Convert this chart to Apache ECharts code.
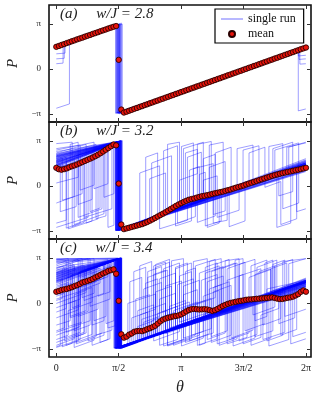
<!DOCTYPE html>
<html>
<head>
<meta charset="utf-8">
<script src="https://cdn.jsdelivr.net/npm/echarts@6/dist/echarts.min.js"></script>
<style>
html, body { margin: 0; padding: 0; background: #fff; }
#chart { width: 322px; height: 401px; }
</style>
</head>
<body>
<div id="chart"></div>
<script>
const PI = Math.PI
const FONT = '"Liberation Serif", "DejaVu Serif", serif'

// theta grid of the mean (97 samples, 0 .. 2π)
const theta = Array.from({ length: 97 }, (_, i) => i * 2 * PI / 96)

// ticks
const xTickValues = [0, PI / 2, PI, 3 * PI / 2, 2 * PI]
const xTickLabels = ['0', 'π/2', 'π', '3π/2', '2π']
const yTickValues = [-PI, 0, PI]
const yTickLabels = ['−π', '0', 'π']

// panel captions
const panelLabels = ['(a)', '(b)', '(c)']
const couplings = ['2.8', '3.2', '3.4']

// mean of P over the runs, one value per theta sample
const meanA = [
    1.54, 1.60, 1.67, 1.73, 1.80, 1.86, 1.93, 1.99, 2.06, 2.12, 2.18, 2.25, 2.31, 2.37, 2.44, 2.50,
    2.56, 2.63, 2.69, 2.75, 2.82, 2.88, 2.94, 2.99, 0.63, -2.84,
    -3.05, -2.99, -2.92, -2.86, -2.79, -2.73, -2.66, -2.60, -2.53, -2.47, -2.40, -2.34, -2.27, -2.21,
    -2.14, -2.08, -2.01, -1.95, -1.88, -1.82, -1.75, -1.69, -1.62, -1.56, -1.49, -1.43, -1.36, -1.30,
    -1.23, -1.17, -1.10, -1.04, -0.97, -0.91, -0.84, -0.78, -0.71, -0.65, -0.58, -0.52, -0.45, -0.39,
    -0.32, -0.26, -0.19, -0.13, -0.06, 0.00, 0.07, 0.13, 0.20, 0.26, 0.33, 0.39, 0.46, 0.52, 0.59,
    0.65, 0.72, 0.78, 0.85, 0.91, 0.98, 1.04, 1.11, 1.17, 1.24, 1.30, 1.37, 1.43, 1.49
]
const meanB = [
    1.26, 1.16, 1.13, 1.17, 1.22, 1.30, 1.37, 1.43, 1.50, 1.58, 1.66, 1.74, 1.82, 1.90, 1.98, 2.07,
    2.17, 2.28, 2.40, 2.52, 2.64, 2.76, 2.89, 2.83, 0.16, -2.70,
    -3.02, -2.97, -2.92, -2.87, -2.82, -2.77, -2.72, -2.67, -2.60, -2.52, -2.43, -2.34, -2.24, -2.14,
    -2.04, -1.94, -1.84, -1.73, -1.62, -1.51, -1.40, -1.30, -1.21, -1.12, -1.04, -0.97, -0.92, -0.88,
    -0.82, -0.77, -0.72, -0.69, -0.65, -0.61, -0.56, -0.52, -0.48, -0.44, -0.40, -0.35, -0.30, -0.25,
    -0.19, -0.13, -0.08, -0.03, 0.03, 0.10, 0.16, 0.22, 0.28, 0.34, 0.40, 0.46, 0.52, 0.58, 0.64,
    0.70, 0.75, 0.80, 0.85, 0.89, 0.93, 0.97, 1.01, 1.05, 1.09, 1.13, 1.17, 1.22, 1.26
]
const meanC = [
    0.81, 0.86, 0.93, 0.97, 1.00, 1.06, 1.12, 1.20, 1.26, 1.35, 1.45, 1.50, 1.56, 1.62, 1.70, 1.80,
    1.88, 1.98, 2.08, 2.15, 2.25, 2.30, 2.36, 2.05, 0.18, -2.14,
    -2.37, -2.30, -2.16, -2.08, -1.96, -1.92, -1.90, -1.92, -1.86, -1.78, -1.72, -1.64, -1.55, -1.40,
    -1.24, -1.12, -1.05, -0.99, -0.95, -0.90, -0.87, -0.83, -0.76, -0.66, -0.55, -0.46, -0.40, -0.38,
    -0.40, -0.42, -0.41, -0.40, -0.42, -0.47, -0.52, -0.47, -0.38, -0.28, -0.18, -0.10, -0.03, 0.03,
    0.07, 0.11, 0.15, 0.18, 0.21, 0.25, 0.27, 0.28, 0.30, 0.32, 0.33, 0.35, 0.36, 0.38, 0.40,
    0.42, 0.38, 0.33, 0.30, 0.31, 0.35, 0.39, 0.42, 0.47, 0.55, 0.64, 0.80, 0.90, 0.81
]

// single runs, corners [theta, P]
const runsA = [
    [[0, 1.52], [1.49, 2.98], [1.49, -3.10], [6.28, 1.46]],
    [[0, 1.56], [1.52, 3.04], [1.52, -3.12], [6.28, 1.50]],
    [[0, 1.60], [1.55, 3.10], [1.55, -3.08], [6.28, 1.55]],
    [[0, 1.54], [1.58, 3.08], [1.58, -3.14], [6.28, 1.49]],
    [[0, 1.58], [1.61, 3.14], [1.61, -3.06], [6.28, 1.53]],
    [[0, 1.62], [1.64, 3.20], [1.64, -3.10], [6.28, 1.58]],
    [[0, 1.50], [1.66, 3.12], [1.66, -3.13], [6.28, 1.47]],
    [[0, 1.56], [1.53, 3.06], [1.53, -3.05], [6.28, 1.52]],
    [[0, -2.75], [0.33, -2.45], [0.33, 1.90], [1.57, 3.12], [1.57, -3.10], [6.28, 1.50]],
    [[0, 1.05], [0.22, 1.10], [0.22, 1.78], [1.60, 3.10], [1.60, -3.10], [6.28, 1.50]],
    [[0, 0.70], [0.20, 0.74], [0.20, 1.75], [1.54, 3.06], [1.54, -3.09], [6.28, 1.51]],
    [[0, 0.36], [0.17, 0.40], [0.17, 1.72], [1.59, 3.12], [1.59, -3.07], [6.28, 1.52]],
    [[0, 1.55], [1.56, 3.08], [1.56, -3.10], [6.09, 1.30], [6.09, -2.93], [6.28, -2.80]],
    [[0, 1.57], [1.58, 3.10], [1.58, -3.08], [6.09, 1.30], [6.09, 0.90], [6.28, 0.95]],
    [[0, 1.53], [1.62, 3.12], [1.62, -3.11], [6.11, 1.32], [6.11, 0.66], [6.28, 0.70]],
    [[0, 1.59], [1.51, 3.02], [1.51, -3.06], [6.13, 1.34], [6.13, 0.33], [6.28, 0.36]]
]
const runsB = [
    [[0, 1.30], [1.49, 2.95], [1.49, -3.12], [6.28, 1.00]],
    [[0, 1.34], [1.495, 2.96], [1.495, -3.11], [6.28, 1.04]],
    [[0, 1.38], [1.50, 2.97], [1.50, -3.10], [6.28, 1.08]],
    [[0, 1.42], [1.51, 2.99], [1.51, -3.09], [6.28, 1.12]],
    [[0, 1.46], [1.52, 3.00], [1.52, -3.11], [6.28, 1.15]],
    [[0, 1.54], [1.53, 3.02], [1.53, -3.08], [6.28, 1.22]],
    [[0, 1.58], [1.54, 3.04], [1.54, -3.10], [6.28, 1.26]],
    [[0, 1.62], [1.55, 3.05], [1.55, -3.09], [6.28, 1.30]],
    [[0, 1.66], [1.555, 3.06], [1.555, -3.07], [6.28, 1.34]],
    [[0, 1.70], [1.56, 3.07], [1.56, -3.06], [6.28, 1.38]],
    [[0, 1.74], [1.565, 3.08], [1.565, -3.08], [6.28, 1.42]],
    [[0, 1.78], [1.57, 3.09], [1.57, -3.10], [6.28, 1.45]],
    [[0, 1.82], [1.58, 3.09], [1.58, -3.06], [6.28, 1.48]],
    [[0, 1.86], [1.59, 3.10], [1.59, -3.07], [6.28, 1.52]],
    [[0, 1.90], [1.595, 3.11], [1.595, -3.09], [6.28, 1.56]],
    [[0, 1.94], [1.60, 3.12], [1.60, -3.05], [6.28, 1.60]],
    [[0, 1.98], [1.61, 3.12], [1.61, -3.05], [6.28, 1.63]],
    [[0, 2.02], [1.62, 3.13], [1.62, -3.08], [6.28, 1.67]],
    [[0, 2.06], [1.625, 3.13], [1.625, -3.07], [6.28, 1.70]],
    [[0, 2.10], [1.63, 3.14], [1.63, -3.04], [6.28, 1.74]],
    [[0, 2.14], [1.64, 3.14], [1.64, -3.04], [6.28, 1.78]],
    [[0, 2.18], [1.65, 3.15], [1.65, -3.06], [6.28, 1.82]],
    [[0, 2.26], [1.66, 3.16], [1.66, -3.03], [6.28, 1.90]],
    [[0, 1.50], [1.58, 3.08], [1.58, -3.12], [6.28, 1.10]],
    [[0, 2.95], [0.40, 3.05], [0.40, -2.85], [0.70, -2.55], [0.70, 2.10], [1.57, 3.10], [1.57, -3.10], [2.40, -2.30], [2.40, 1.60], [2.90, 2.10], [2.90, -1.50], [6.28, 1.40]],
    [[0, -2.60], [0.25, -2.40], [0.25, 1.70], [1.52, 3.05], [1.52, -3.08], [3.20, -1.40], [3.20, 2.60], [3.70, 3.05], [3.70, -0.90], [6.28, 1.50]],
    [[0, 0.20], [0.55, 0.60], [0.55, 2.15], [1.60, 3.12], [1.60, -3.05], [3.45, -1.10], [3.45, 1.20], [3.95, 1.55], [3.95, -2.60], [4.30, -2.40], [4.30, -0.60], [6.28, 1.30]],
    [[0, 1.60], [0.85, 2.40], [0.85, -1.80], [1.10, -1.55], [1.10, 2.55], [1.55, 3.08], [1.55, -3.10], [2.10, -2.55], [2.10, 0.90], [2.60, 1.40], [2.60, -3.00], [3.30, -2.40], [3.30, -1.20], [6.28, 1.60]],
    [[0, 1.80], [0.15, 1.95], [0.15, -1.00], [0.45, -0.75], [0.45, 2.15], [1.58, 3.12], [1.58, -3.08], [3.85, -0.85], [3.85, 2.85], [4.20, 3.05], [4.20, -0.60], [4.70, -0.15], [4.70, 2.50], [5.10, 2.80], [5.10, 0.20], [6.28, 1.40]],
    [[0, 2.20], [1.00, 2.90], [1.00, -2.30], [1.25, -2.10], [1.25, 2.70], [1.62, 3.14], [1.62, -3.06], [2.80, -1.80], [2.80, 2.90], [3.10, 3.05], [3.10, -1.30], [5.55, 1.00], [5.55, -2.90], [5.90, -2.60], [5.90, 1.20], [6.28, 1.60]],
    [[0, 1.30], [0.30, 1.50], [0.30, -3.00], [0.90, -2.45], [0.90, 2.40], [1.50, 2.95], [1.50, -3.12], [3.60, -1.00], [3.60, 0.80], [3.75, 0.95], [3.75, -2.80], [4.15, -2.45], [4.15, -0.40], [5.80, 1.20], [5.80, 2.70], [6.28, 3.00]],
    [[0, 2.60], [0.60, 2.85], [0.60, -0.30], [0.95, 0.05], [0.95, 2.50], [1.56, 3.08], [1.56, -3.10], [2.25, -2.40], [2.25, 2.00], [2.55, 2.30], [2.55, -2.10], [6.28, 1.50]],
    [[0, 1.00], [0.70, 1.60], [0.70, -2.20], [1.40, -1.60], [1.40, 2.90], [1.60, 3.10], [1.60, -3.10], [4.55, -0.20], [4.55, 2.60], [4.95, 2.85], [4.95, 0.00], [5.35, 0.40], [5.35, 2.75], [5.70, 2.95], [5.70, 0.90], [6.28, 1.35]],
    [[0, 2.00], [1.54, 3.05], [1.54, -3.08], [3.00, -1.60], [3.00, -2.80], [3.40, -2.45], [3.40, -1.10], [4.00, -0.50], [4.00, 2.30], [4.40, 2.70], [4.40, -0.20], [6.28, 1.70]],
    [[0, 1.70], [1.20, 2.70], [1.20, -0.80], [1.45, -0.55], [1.45, 2.95], [1.63, 3.14], [1.63, -3.04], [3.95, -0.60], [3.95, -2.00], [4.25, -1.75], [4.25, -0.30], [6.05, 1.30], [6.05, -1.80], [6.28, -1.60]],
    [[0, 2.40], [1.58, 3.10], [1.58, -3.10], [3.25, -1.30], [3.25, 2.30], [3.55, 2.55], [3.55, -1.00], [5.60, 0.90], [5.60, -0.70], [5.95, -0.40], [5.95, 1.20], [6.28, 1.55]],
    [[0, 1.40], [0.10, 1.50], [0.10, -1.80], [0.50, -1.45], [0.50, 2.10], [1.57, 3.10], [1.57, -3.06], [3.70, -0.95], [3.70, 0.40], [4.05, 0.70], [4.05, -2.20], [4.60, -1.70], [4.60, -0.10], [6.28, 1.30]],
    [[0, 1.90], [1.52, 3.02], [1.52, -3.12], [2.70, -1.90], [2.70, 2.45], [3.05, 2.80], [3.05, -1.45], [5.50, 0.85], [5.50, 2.50], [6.10, 3.00], [6.10, 1.35], [6.28, 1.50]],
    [[0, -2.90], [0.80, -2.20], [0.80, 2.35], [1.58, 3.10], [1.58, -3.08], [3.35, -1.30], [3.35, 1.10], [3.60, 1.35], [3.60, -1.05], [6.28, 1.45]],
    [[0, 1.50], [0.55, 2.00], [0.55, -1.30], [0.90, -0.95], [0.90, 2.45], [1.56, 3.10], [1.56, -3.10], [3.80, -0.85], [3.80, -2.90], [4.10, -2.60], [4.10, -0.55], [6.28, 1.45]],
    [[0, 2.10], [1.62, 3.14], [1.62, -3.06], [3.10, -1.45], [3.10, 0.40], [3.55, 0.85], [3.55, 2.90], [3.90, 3.10], [3.90, -0.85], [5.85, 1.10], [5.85, 2.70], [6.28, 3.05]],
    [[0, 1.20], [0.35, 1.50], [0.35, 2.90], [0.55, 3.05], [0.55, -2.20], [1.15, -1.60], [1.15, 2.70], [1.60, 3.12], [1.60, -3.08], [3.55, -1.10], [3.55, -2.55], [4.00, -2.10], [4.00, -0.55], [6.28, 1.50]],
    [[0, 1.65], [1.55, 3.08], [1.55, -3.10], [4.85, 0.10], [4.85, 2.30], [5.25, 2.70], [5.25, -0.10], [5.65, 0.30], [5.65, -2.70], [6.05, -2.30], [6.05, 1.25], [6.28, 1.45]],
    [[0, 2.30], [0.75, 2.90], [0.75, -2.60], [1.05, -2.30], [1.05, 2.55], [1.53, 3.04], [1.53, -3.10], [3.30, -1.35], [3.30, 2.00], [3.65, 2.35], [3.65, -1.00], [6.28, 1.60]],
    [[0, 1.75], [0.25, 2.00], [0.25, -2.95], [0.60, -2.60], [0.60, 2.05], [1.59, 3.12], [1.59, -3.08], [3.85, -0.85], [3.85, 1.30], [4.25, 1.70], [4.25, -0.40], [6.28, 1.50]],
    [[0, 2.05], [1.30, 2.90], [1.30, -2.90], [1.45, -2.75], [1.45, 2.95], [1.61, 3.12], [1.61, -3.06], [3.15, -1.40], [3.15, 2.75], [3.45, 3.00], [3.45, -1.15], [6.28, 1.55]],
    [[0, -1.20], [0.65, -0.55], [0.65, 2.15], [1.57, 3.10], [1.57, -3.08], [2.35, -2.35], [2.35, 0.50], [2.75, 0.90], [2.75, -1.90], [6.28, 1.40]],
    [[0, 1.45], [0.45, 1.85], [0.45, -2.70], [1.20, -1.95], [1.20, 2.65], [1.56, 3.08], [1.56, -3.10], [4.35, -0.30], [4.35, -2.85], [4.75, -2.45], [4.75, 0.05], [5.45, 0.70], [5.45, 2.60], [5.95, 3.05], [5.95, 1.20], [6.28, 1.50]],
    [[0, 2.50], [0.95, 3.05], [0.95, -0.20], [1.30, 0.15], [1.30, 2.80], [1.63, 3.14], [1.63, -3.04], [3.70, -0.95], [3.70, 1.90], [4.00, 2.20], [4.00, -0.55], [6.28, 1.60]],
    [[0, 1.20], [1.50, 2.80], [1.50, -3.10], [3.05, -1.50], [3.05, -2.60], [3.50, -2.15], [3.50, -1.05], [5.70, 0.95], [5.70, -1.60], [6.10, -1.20], [6.10, 1.30], [6.28, 1.50]]
]
const runsC = [
    [[0, 1.45], [1.45, 2.95], [1.45, -3.10], [6.28, 0.95]],
    [[0, 1.48], [1.46, 2.96], [1.46, -3.09], [6.28, 0.98]],
    [[0, 1.52], [1.47, 2.98], [1.47, -3.08], [6.28, 1.02]],
    [[0, 1.56], [1.48, 2.99], [1.48, -3.10], [6.28, 1.05]],
    [[0, 1.59], [1.49, 3.00], [1.49, -3.11], [6.28, 1.08]],
    [[0, 1.62], [1.50, 3.02], [1.50, -3.07], [6.28, 1.12]],
    [[0, 1.66], [1.51, 3.03], [1.51, -3.06], [6.28, 1.15]],
    [[0, 1.70], [1.52, 3.04], [1.52, -3.08], [6.28, 1.18]],
    [[0, 1.73], [1.53, 3.05], [1.53, -3.09], [6.28, 1.22]],
    [[0, 1.77], [1.535, 3.06], [1.535, -3.06], [6.28, 1.25]],
    [[0, 1.80], [1.54, 3.07], [1.54, -3.05], [6.28, 1.28]],
    [[0, 1.84], [1.55, 3.08], [1.55, -3.09], [6.28, 1.32]],
    [[0, 1.87], [1.56, 3.08], [1.56, -3.10], [6.28, 1.35]],
    [[0, 1.91], [1.565, 3.09], [1.565, -3.05], [6.28, 1.38]],
    [[0, 1.94], [1.57, 3.10], [1.57, -3.07], [6.28, 1.42]],
    [[0, 1.98], [1.58, 3.10], [1.58, -3.08], [6.28, 1.45]],
    [[0, 2.01], [1.59, 3.11], [1.59, -3.04], [6.28, 1.48]],
    [[0, 2.05], [1.595, 3.12], [1.595, -3.06], [6.28, 1.52]],
    [[0, 2.08], [1.60, 3.12], [1.60, -3.08], [6.28, 1.55]],
    [[0, 2.12], [1.61, 3.13], [1.61, -3.10], [6.28, 1.58]],
    [[0, 2.15], [1.62, 3.13], [1.62, -3.12], [6.28, 1.62]],
    [[0, 2.22], [1.63, 3.14], [1.63, -3.06], [6.28, 1.68]],
    [[0, 2.30], [1.65, 3.15], [1.65, -3.09], [6.28, 1.75]],
    [[0, 3.05], [1.56, 3.14], [1.56, -3.10], [6.28, 1.30]],
    [[0, 2.95], [1.50, 3.10], [1.50, -3.12], [6.28, 1.20]],
    [[0, 3.05], [0.80, 3.10], [0.80, -2.60], [1.20, -2.20], [1.20, 2.70], [1.60, 3.12], [1.60, -3.10], [2.30, -2.40], [2.30, 1.80], [2.80, 2.30], [2.80, -2.90], [3.50, -2.20], [3.50, 2.60], [4.00, 3.05], [4.00, -0.80], [6.28, 1.40]],
    [[0, -2.90], [0.45, -2.45], [0.45, 0.60], [0.75, 0.90], [0.75, 2.30], [1.55, 3.10], [1.55, -3.05], [2.05, -2.55], [2.05, -0.50], [2.45, -0.10], [2.45, -2.60], [3.10, -1.95], [3.10, 1.90], [3.40, 2.20], [3.40, -1.30], [4.90, 0.10], [4.90, -2.90], [5.40, -2.40], [5.40, 0.60], [6.28, 1.45]],
    [[0, 1.20], [0.30, 1.45], [0.30, -1.60], [0.65, -1.30], [0.65, 2.25], [1.58, 3.12], [1.58, -3.10], [2.90, -1.85], [2.90, 2.95], [3.20, 3.10], [3.20, -2.40], [3.70, -1.95], [3.70, -0.80], [4.60, 0.10], [4.60, 2.70], [5.00, 3.05], [5.00, -1.20], [5.30, -0.90], [5.30, 1.00], [6.28, 1.60]],
    [[0, 2.60], [0.55, 3.05], [0.55, -0.90], [1.05, -0.40], [1.05, 2.60], [1.52, 3.05], [1.52, -3.08], [2.60, -2.10], [2.60, 0.30], [3.00, 0.70], [3.00, -1.60], [4.30, -0.40], [4.30, -2.80], [4.80, -2.35], [4.80, 0.10], [6.28, 1.20]],
    [[0, 0.30], [0.90, 1.10], [0.90, -2.90], [1.30, -2.50], [1.30, 2.80], [1.62, 3.14], [1.62, -3.06], [1.95, -2.75], [1.95, 2.20], [2.25, 2.50], [2.25, -2.40], [3.80, -0.95], [3.80, 1.50], [4.20, 1.90], [4.20, -0.60], [5.70, 0.80], [5.70, 2.90], [6.28, 3.10]],
    [[0, -1.50], [0.35, -1.20], [0.35, 1.90], [1.00, 2.50], [1.00, -2.20], [1.40, -1.85], [1.40, 2.95], [1.64, 3.12], [1.64, -3.10], [3.30, -1.50], [3.30, -0.20], [3.90, 0.35], [3.90, -2.70], [4.40, -2.20], [4.40, -0.30], [6.28, 1.50]],
    [[0, 2.30], [0.20, 2.50], [0.20, -2.40], [0.60, -2.00], [0.60, 0.90], [1.10, 1.40], [1.10, 2.65], [1.50, 3.00], [1.50, -3.12], [2.70, -1.95], [2.70, 2.40], [3.10, 2.80], [3.10, -1.30], [4.50, 0.00], [4.50, 3.00], [4.70, 3.10], [4.70, 0.10], [6.28, 1.70]],
    [[0, 0.90], [0.50, 1.35], [0.50, -2.70], [1.15, -2.05], [1.15, 2.60], [1.57, 3.10], [1.57, -3.10], [2.15, -2.50], [2.15, -1.10], [2.80, -0.50], [2.80, -2.95], [3.60, -2.20], [3.60, 2.10], [4.10, 2.60], [4.10, -0.60], [5.20, 0.50], [5.20, -2.50], [5.75, -2.00], [5.75, 1.00], [6.28, 1.50]],
    [[0, 3.10], [1.60, 3.12], [1.60, -3.06], [2.50, -2.20], [2.50, 2.70], [2.85, 3.05], [2.85, -1.70], [3.95, -0.70], [3.95, 1.10], [4.35, 1.50], [4.35, -2.50], [4.85, -2.05], [4.85, 0.20], [6.28, 1.55]],
    [[0, -0.60], [0.25, -0.35], [0.25, 1.75], [0.95, 2.40], [0.95, -1.20], [1.25, -0.90], [1.25, 2.75], [1.55, 3.08], [1.55, -3.05], [3.55, -1.05], [3.55, -2.90], [4.05, -2.45], [4.05, -0.55], [5.05, 0.40], [5.05, 2.50], [5.55, 3.00], [5.55, 0.90], [6.28, 1.45]],
    [[0, 2.00], [0.70, 2.65], [0.70, 0.20], [1.20, 0.70], [1.20, 2.75], [1.62, 3.14], [1.62, -3.08], [2.00, -2.70], [2.00, 0.30], [2.35, 0.60], [2.35, -2.40], [3.15, -1.60], [3.15, -0.40], [3.75, 0.20], [3.75, -1.00], [5.90, 1.10], [5.90, -2.80], [6.28, -2.45]],
    [[0, 1.55], [0.15, 1.70], [0.15, -3.00], [0.40, -2.75], [0.40, 2.00], [1.58, 3.12], [1.58, -3.10], [3.05, -1.60], [3.05, 1.30], [3.45, 1.70], [3.45, -1.25], [4.75, 0.00], [4.75, -1.90], [5.25, -1.40], [5.25, 0.50], [6.28, 1.35]],
    [[0, -2.20], [0.60, -1.60], [0.60, 2.15], [1.52, 3.05], [1.52, -3.10], [2.20, -2.45], [2.20, 1.00], [2.65, 1.45], [2.65, -2.00], [4.15, -0.55], [4.15, 2.40], [4.55, 2.80], [4.55, -0.10], [5.60, 0.90], [5.60, -1.40], [6.00, -1.00], [6.00, 1.20], [6.28, 1.45]],
    [[0, 2.80], [1.30, 3.05], [1.30, -1.70], [1.48, -1.55], [1.48, 2.95], [1.64, 3.12], [1.64, -3.04], [2.35, -2.35], [2.35, -0.40], [2.75, 0.00], [2.75, -2.10], [3.85, -1.00], [3.85, 2.90], [4.15, 3.10], [4.15, -0.60], [6.28, 1.55]],
    [[0, 1.00], [0.40, 1.40], [0.40, 2.90], [0.85, 3.10], [0.85, -0.20], [1.35, 0.30], [1.35, 2.85], [1.60, 3.10], [1.60, -3.10], [2.95, -1.80], [2.95, -2.90], [3.40, -2.45], [3.40, -1.20], [5.10, 0.40], [5.10, 2.20], [5.50, 2.60], [5.50, 0.80], [6.28, 1.60]],
    [[0, 0.00], [0.75, 0.75], [0.75, 2.30], [1.56, 3.10], [1.56, -3.08], [2.45, -2.20], [2.45, 2.00], [2.75, 2.30], [2.75, -1.95], [3.65, -1.05], [3.65, 1.60], [4.05, 2.00], [4.05, -2.80], [4.50, -2.40], [4.50, -0.15], [6.28, 1.30]],
    [[0, 2.45], [0.35, 2.80], [0.35, -1.00], [0.80, -0.55], [0.80, 2.35], [1.54, 3.08], [1.54, -3.06], [1.85, -2.80], [1.85, 1.50], [2.15, 1.80], [2.15, -2.50], [3.25, -1.40], [3.25, 2.20], [3.50, 2.45], [3.50, -1.20], [5.35, 0.70], [5.35, -2.95], [5.85, -2.50], [5.85, 1.10], [6.28, 1.50]],
    [[0, -3.00], [0.10, -2.90], [0.10, 1.60], [1.05, 2.50], [1.05, 0.50], [1.35, 0.80], [1.35, 2.85], [1.60, 3.12], [1.60, -3.06], [4.25, -0.40], [4.25, 2.95], [4.60, 3.10], [4.60, -0.10], [6.28, 1.60]],
    [[0, 1.85], [0.50, 2.35], [0.50, -2.30], [0.70, -2.10], [0.70, 2.20], [1.50, 3.00], [1.50, -3.10], [3.15, -1.45], [3.15, -2.95], [3.70, -2.40], [3.70, 0.50], [4.10, 0.90], [4.10, -0.70], [5.00, 0.30], [5.00, -2.30], [5.45, -1.90], [5.45, 0.75], [6.28, 1.40]],
    [[0, 2.70], [0.25, 2.95], [0.25, -2.00], [0.55, -1.70], [0.55, 2.10], [1.63, 3.14], [1.63, -3.08], [2.55, -2.15], [2.55, -0.70], [3.35, 0.10], [3.35, -1.35], [4.60, -0.10], [4.60, 1.90], [5.15, 2.40], [5.15, 0.40], [6.28, 1.45]],
    [[0, -2.50], [0.30, -2.20], [0.30, -0.50], [0.90, 0.10], [0.90, 2.40], [1.58, 3.10], [1.58, -3.08], [2.85, -1.85], [2.85, -0.20], [3.25, 0.20], [3.25, -2.70], [3.95, -2.05], [3.95, 0.80], [4.40, 1.25], [4.40, -0.30], [6.28, 1.50]],
    [[0, 2.90], [0.65, 3.10], [0.65, 0.40], [0.95, 0.70], [0.95, 2.45], [1.54, 3.05], [1.54, -3.10], [2.40, -2.25], [2.40, -1.20], [3.00, -0.60], [3.00, 2.50], [3.30, 2.80], [3.30, -1.40], [5.65, 0.95], [5.65, -2.20], [6.05, -1.80], [6.05, 1.25], [6.28, 1.45]],
    [[0, 0.50], [0.20, 0.70], [0.20, -2.60], [0.75, -2.05], [0.75, 2.35], [1.61, 3.12], [1.61, -3.06], [2.10, -2.60], [2.10, 2.60], [2.40, 2.90], [2.40, -2.30], [4.45, -0.25], [4.45, -2.95], [5.00, -2.40], [5.00, 0.30], [6.28, 1.55]],
    [[0, 1.40], [1.10, 2.45], [1.10, -2.70], [1.35, -2.45], [1.35, 2.85], [1.57, 3.10], [1.57, -3.12], [3.45, -1.25], [3.45, 2.90], [3.80, 3.10], [3.80, -0.95], [4.90, 0.15], [4.90, 2.60], [5.30, 3.00], [5.30, 0.60], [6.28, 1.60]],
    [[0, -1.00], [0.55, -0.45], [0.55, 2.10], [1.25, 2.75], [1.25, -1.40], [1.45, -1.20], [1.45, 2.95], [1.63, 3.12], [1.63, -3.06], [2.60, -2.10], [2.60, -2.90], [3.05, -2.50], [3.05, -1.55], [5.20, 0.55], [5.20, -1.50], [5.65, -1.05], [5.65, 0.95], [6.28, 1.50]],
    [[0, 2.15], [0.45, 2.60], [0.45, -3.05], [0.95, -2.55], [0.95, 2.40], [1.55, 3.08], [1.55, -3.08], [1.80, -2.85], [1.80, 0.00], [2.50, 0.65], [2.50, -2.15], [3.90, -0.80], [3.90, -2.30], [4.30, -1.90], [4.30, 2.40], [4.75, 2.85], [4.75, 0.00], [6.28, 1.50]],
    [[0, 3.00], [0.30, 3.10], [0.30, 1.00], [0.70, 1.40], [0.70, 2.30], [1.50, 3.00], [1.50, -3.10], [3.35, -1.30], [3.35, -2.60], [3.85, -2.10], [3.85, 1.00], [4.15, 1.30], [4.15, -0.55], [5.85, 1.10], [5.85, 2.75], [6.28, 3.10]],
    [[0, -2.00], [0.85, -1.20], [0.85, 2.40], [1.60, 3.12], [1.60, -3.10], [2.75, -1.95], [2.75, 1.20], [3.15, 1.55], [3.15, -1.45], [4.70, 0.05], [4.70, -2.80], [5.15, -2.35], [5.15, -0.80], [5.60, -0.35], [5.60, 0.95], [6.28, 1.60]],
    [[0, 1.70], [0.40, 2.10], [0.40, -0.30], [0.60, -0.10], [0.60, 2.25], [1.64, 3.14], [1.64, -3.10], [2.05, -2.70], [2.05, -1.60], [2.45, -1.20], [2.45, 2.60], [2.75, 2.85], [2.75, -1.90], [4.85, 0.15], [4.85, 1.80], [5.40, 2.35], [5.40, 0.80], [6.28, 1.50]],
    [[0, 0.60], [1.20, 1.75], [1.20, 2.75], [1.56, 3.10], [1.56, -3.05], [3.60, -1.05], [3.60, -2.90], [3.75, -2.75], [3.75, 2.10], [4.20, 2.55], [4.20, -0.50], [5.50, 0.80], [5.50, 2.60], [5.95, 3.05], [5.95, 1.20], [6.28, 1.55]],
    [[0, 2.50], [1.55, 3.10], [1.55, -3.10], [2.30, -2.35], [2.30, 2.20], [2.65, 2.55], [2.65, -0.60], [3.05, -0.20], [3.05, -1.55], [4.40, -0.20], [4.40, -2.40], [4.95, -1.85], [4.95, 0.20], [6.28, 1.50]],
    [[0, -3.05], [0.60, -2.50], [0.60, 1.10], [1.00, 1.50], [1.00, 2.50], [1.53, 3.05], [1.53, -3.10], [3.20, -1.45], [3.20, 0.60], [3.55, 0.95], [3.55, -1.15], [5.25, 0.50], [5.25, 2.80], [5.45, 3.00], [5.45, 0.70], [6.28, 1.45]],
    [[0, 0.20], [0.15, 0.35], [0.15, 2.40], [0.45, 2.70], [0.45, -1.90], [0.85, -1.50], [0.85, 2.35], [1.57, 3.10], [1.57, -3.07], [2.20, -2.45], [2.20, -1.30], [2.60, -0.90], [2.60, 1.70], [3.00, 2.10], [3.00, -1.60], [5.40, 0.75], [5.40, 2.40], [5.80, 2.80], [5.80, 1.15], [6.28, 1.45]],
    [[0, -0.30], [0.50, 0.20], [0.50, -2.80], [1.00, -2.30], [1.00, 2.50], [1.61, 3.12], [1.61, -3.08], [3.50, -1.20], [3.50, -0.10], [4.00, 0.40], [4.00, 2.70], [4.35, 3.05], [4.35, -0.45], [5.30, 0.50], [5.30, -2.60], [5.70, -2.20], [5.70, 0.95], [6.28, 1.50]],
    [[0, 2.85], [0.95, 3.10], [0.95, 1.50], [1.30, 1.85], [1.30, 2.80], [1.59, 3.12], [1.59, -3.10], [2.70, -2.00], [2.70, -2.95], [3.20, -2.50], [3.20, 1.20], [3.60, 1.60], [3.60, -1.10], [4.95, 0.25], [4.95, -0.80], [5.50, -0.25], [5.50, 0.85], [6.28, 1.50]],
    [[0, -1.90], [0.20, -1.70], [0.20, 0.80], [0.55, 1.15], [0.55, -2.50], [0.90, -2.15], [0.90, 2.40], [1.55, 3.08], [1.55, -3.06], [2.50, -2.15], [2.50, 0.80], [2.90, 1.20], [2.90, -1.80], [4.60, -0.10], [4.60, -2.60], [5.05, -2.15], [5.05, 0.35], [6.28, 1.50]],
    [[0, 2.40], [0.60, 3.00], [0.60, 1.80], [1.40, 2.60], [1.40, 2.95], [1.62, 3.14], [1.62, -3.10], [1.90, -2.80], [1.90, -1.00], [2.30, -0.60], [2.30, -2.40], [3.75, -1.00], [3.75, 2.50], [4.05, 2.80], [4.05, -0.70], [5.75, 1.00], [5.75, -0.90], [6.28, -0.40]],
    [[0, 0.75], [0.35, 1.10], [0.35, -0.90], [0.75, -0.50], [0.75, 2.30], [1.52, 3.05], [1.52, -3.08], [3.00, -1.65], [3.00, 2.40], [3.40, 2.80], [3.40, -1.25], [4.30, -0.40], [4.30, 1.60], [4.70, 2.00], [4.70, -0.05], [6.28, 1.45]],
    [[0, 1.30], [0.90, 2.20], [0.90, -1.50], [1.20, -1.20], [1.20, 2.75], [1.63, 3.14], [1.63, -3.06], [2.25, -2.45], [2.25, 1.40], [2.55, 1.70], [2.55, -2.20], [4.10, -0.60], [4.10, -2.90], [4.55, -2.45], [4.55, -0.10], [5.45, 0.80], [5.45, 2.70], [5.75, 3.00], [5.75, 1.00], [6.28, 1.50]],
    [[0, -2.70], [0.70, -2.00], [0.70, 2.25], [1.58, 3.10], [1.58, -3.10], [2.95, -1.75], [2.95, -0.50], [3.55, 0.10], [3.55, -1.15], [5.00, 0.30], [5.00, 2.00], [5.40, 2.40], [5.40, 0.70], [6.28, 1.45]],
    [[0, 2.10], [0.30, 2.40], [0.30, 0.00], [0.60, 0.30], [0.60, 2.20], [1.48, 3.00], [1.48, -3.10], [2.10, -2.50], [2.10, -0.80], [2.50, -0.40], [2.50, 2.50], [2.85, 2.85], [2.85, -1.80], [3.80, -0.95], [3.80, -2.50], [4.25, -2.05], [4.25, -0.40], [6.28, 1.55]],
    [[0, 1.10], [0.25, 1.35], [0.25, -2.90], [0.55, -2.60], [0.55, 2.10], [1.60, 3.12], [1.60, -3.08], [3.40, -1.30], [3.40, -2.20], [3.90, -1.75], [3.90, 2.20], [4.50, 2.80], [4.50, -0.20], [5.95, 1.15], [5.95, -2.30], [6.28, -2.00]]
]

const panels = [
    { mean: meanA, runs: runsA },
    { mean: meanB, runs: runsB },
    { mean: meanC, runs: runsC }
]
const tops = [5, 122, 239]
const heights = [117, 117, 118]

const pick = (values, labels) => v => {
    const i = values.findIndex(t => Math.abs(t - v) < 1e-6)
    return i < 0 ? '' : labels[i]
}

const grids = []
const xAxes = []
const yAxes = []
const titles = []
let series = []

panels.forEach((p, k) => {
    grids.push({
        left: 49, right: 11, top: tops[k], height: heights[k],
        outerBoundsMode: 'none', containLabel: false,
        show: true, borderColor: '#111', borderWidth: 1.6
    })
    // bottom and top x axes (ticks inside)
    for (const pos of ['bottom', 'top']) {
        const labelled = pos === 'bottom' && k === 2
        xAxes.push({
            type: 'value', gridIndex: k, position: pos, min: -0.184, max: 6.41, z: 6,
            axisLine: { show: false, onZero: false },
            splitLine: { show: false },
            axisTick: { show: true, inside: true, length: 4, customValues: xTickValues, lineStyle: { color: '#333', width: 1 } },
            axisLabel: {
                show: labelled, customValues: xTickValues, formatter: pick(xTickValues, xTickLabels),
                margin: 6, fontFamily: FONT, fontSize: 10, color: '#222'
            },
            name: labelled ? 'θ' : '',
            nameLocation: 'middle', nameGap: 23,
            nameTextStyle: { fontFamily: FONT, fontStyle: 'italic', fontSize: 16, color: '#222' }
        })
    }
    // left and right y axes
    for (const pos of ['left', 'right']) {
        const labelled = pos === 'left'
        yAxes.push({
            type: 'value', gridIndex: k, position: pos, min: -3.71, max: 4.46, z: 6,
            axisLine: { show: false, onZero: false },
            splitLine: { show: false },
            axisTick: { show: true, inside: true, length: 4, customValues: yTickValues, lineStyle: { color: '#333', width: 1 } },
            axisLabel: {
                show: labelled, customValues: yTickValues, formatter: pick(yTickValues, yTickLabels),
                margin: 8, fontFamily: FONT, fontSize: 9, color: '#222'
            },
            name: labelled ? 'P' : '',
            nameLocation: 'middle', nameGap: 27,
            nameTextStyle: { fontFamily: FONT, fontStyle: 'italic', fontSize: 15, color: '#222' }
        })
    }
    titles.push({
        text: panelLabels[k] + '     w/J = ' + couplings[k],
        left: 60, top: tops[k] + 2, padding: 0,
        textStyle: { fontFamily: FONT, fontStyle: 'italic', fontWeight: 'normal', fontSize: 15, color: '#222' }
    })
    // single runs
    p.runs.forEach(r => {
        series.push({
            type: 'line', name: 'single run', xAxisIndex: 2 * k, yAxisIndex: 2 * k,
            data: r, symbol: 'none', silent: true, z: 2, color: '#9999ff',
            lineStyle: { color: '#0000ff', width: 1, opacity: 0.38 }
        })
    })
    // mean
    series.push({
        type: 'scatter', name: 'mean', xAxisIndex: 2 * k, yAxisIndex: 2 * k,
        data: p.mean.map((v, i) => [theta[i], v]),
        symbol: 'circle', symbolSize: 5.4, z: 5,
        itemStyle: { color: '#e8150c', borderColor: '#2a0000', borderWidth: 0.9, opacity: 1 }
    })
})

let option = {
    animation: false,
    title: titles,
    grid: grids,
    xAxis: xAxes,
    yAxis: yAxes,
    legend: {
        left: 215, top: 9, orient: 'vertical', selectedMode: false,
        data: [
            { name: 'single run', icon: 'path://M0,0 L30,0 L30,2 L0,2 Z', itemStyle: { color: '#9f9fff' } },
            { name: 'mean', icon: 'circle' }
        ],
        itemWidth: 22, itemHeight: 6, itemGap: 3,
        padding: [4, 8, 3, 6],
        borderColor: '#000', borderWidth: 1.2, backgroundColor: '#fff',
        textStyle: { fontFamily: FONT, fontSize: 12, color: '#111' }
    },
    series: series
}

const myChart = echarts.init(document.getElementById('chart'), null, { renderer: 'canvas' })
myChart.setOption(option)
</script>
</body>
</html>
